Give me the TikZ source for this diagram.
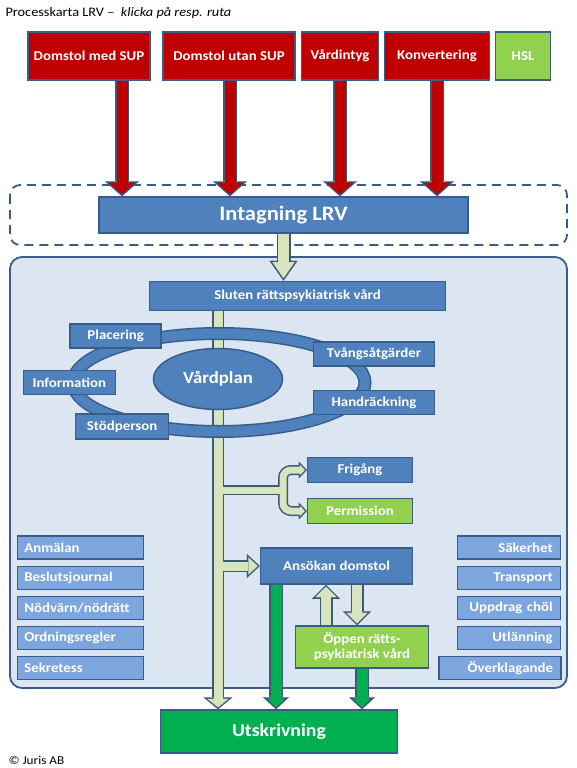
\documentclass[tikz,border=0pt]{standalone}
\usepackage{fontspec}
\setmainfont{Carlito}[FakeStretch=1.1]
\usetikzlibrary{positioning,arrows.meta,shapes.geometric}

\definecolor{redfill}{HTML}{C00000}
\definecolor{bluefill}{HTML}{4F81BD}
\definecolor{boxline}{HTML}{385D8A}
\definecolor{listfill}{HTML}{7EA6DE}
\definecolor{lightgreen}{HTML}{92D050}
\definecolor{darkgreen}{HTML}{00B050}
\definecolor{panelfill}{HTML}{DCE6F2}
\definecolor{paleyellow}{HTML}{D7E4BD}
\definecolor{arrowline}{HTML}{3B5A75}

\begin{document}
\begin{tikzpicture}[
    x=1pt, y=-1pt,
    font=\fontsize{13.5}{15}\selectfont\bfseries,
    box/.style={draw=boxline, line width=1.5pt, text=white, inner sep=1pt, align=center},
    redbox/.style={box, fill=redfill, minimum height=48pt},
    bluebox/.style={box, fill=bluefill},
    greenbox/.style={box, fill=lightgreen},
    leftlist/.style={box, fill=listfill, minimum height=23pt, text width=112pt, inner xsep=7pt, align=left},
    rightlist/.style={box, fill=listfill, minimum height=23pt, text width=#1, inner xsep=8pt, align=right},
    rightlist/.default=87pt,
    blockline/.style args={#1/#2/#3}{line width=#1, -{Triangle[width=#2, length=#3, line width=0.01pt]}},
    twoway/.style args={#1/#2/#3}{line width=#1, {Triangle[width=#2, length=#3, line width=0.01pt]}-{Triangle[width=#2, length=#3, line width=0.01pt]}}
]
\useasboundingbox (0,0) rectangle (576,768);

\node[anchor=west, font=\fontsize{13}{15}\selectfont\mdseries] (title) at (2,13) {Processkarta LRV --\enspace\textit{klicka på resp. ruta}};

\draw[draw=boxline, line width=1.8pt, dash pattern=on 9pt off 6pt, rounded corners=10pt] (10,185) rectangle (567,245);
\draw[draw=boxline, fill=panelfill, line width=1.8pt, rounded corners=12pt] (10,257) rectangle (567,688);

\node[redbox, minimum width=122pt] (dsup) at (89,56) {Domstol med SUP};
\node[redbox, minimum width=132pt] (dutan) at (229,56) {Domstol utan SUP};
\node[redbox, minimum width=77pt] (vintyg) at (340,56) {Vårdintyg};
\node[redbox, minimum width=105pt] (konv) at (437,56) {Konvertering};
\node[greenbox, minimum width=55pt, minimum height=48pt] (hsl) at (523,56) {HSL};

\node[bluebox, minimum width=369pt, minimum height=36pt, font=\fontsize{20.5}{22}\selectfont\bfseries] (intag) at (283.5,215) {Intagning LRV};
\node[bluebox, minimum width=296pt, minimum height=29pt] (sluten) at (297.5,296) {Sluten rättspsykiatrisk vård};

\node[bluebox, minimum width=105pt, minimum height=25pt] (frigang) at (360,470) {Frigång};
\node[greenbox, minimum width=105pt, minimum height=25pt] (permission) at (360,511) {Permission};
\node[bluebox, minimum width=152pt, minimum height=36pt] (ansokan) at (336.5,566) {Ansökan domstol};
\node[greenbox, minimum width=133pt, minimum height=42pt] (oppen) at (362,647) {Öppen rätts-\\psykiatrisk vård};
\node[box, fill=darkgreen, minimum width=237pt, minimum height=43pt, font=\fontsize{18}{20}\selectfont\bfseries] (utskr) at (279,731.5) {Utskrivning};

\node[leftlist] (anmalan) at (80.3,547.5) {Anmälan};
\node[leftlist] (besluts) at (80.3,578) {Beslutsjournal};
\node[leftlist] (nodvarn) at (80.3,608) {Nödvärn/nödrätt};
\node[leftlist] (ordning) at (80.3,638) {Ordningsregler};
\node[leftlist] (sekretess) at (80.3,668) {Sekretess};

\node[rightlist] (sakerhet) at (509.2,547.5) {Säkerhet};
\node[rightlist] (transport) at (509.2,578) {Transport};
\node[rightlist] (uppdrag) at (509.2,608) {Uppdrag chöl};
\node[rightlist] (utlanning) at (509.2,638) {Utlänning};
\node[rightlist=106pt] (overkl) at (500,668) {Överklagande};

\node[anchor=west, font=\fontsize{12}{14}\selectfont\mdseries] (copyright) at (5,760) {\textcopyright\ Juris AB};

\coordinate (spine) at (218,311);
\coordinate (fork) at (283,490);
\coordinate (uparr) at (326,600);
\coordinate (downarr) at (357,600);
\coordinate (grarr) at (276,600);

\foreach \src/\dx in {dsup/33,dutan/1,vintyg/0,konv/0} {
  \draw[blockline=14pt/34pt/15pt, draw=arrowline] ([xshift=\dx pt]\src.south) -- ([xshift=\dx pt]\src.south |- intag.north);
  \draw[blockline=11pt/26pt/11.5pt, draw=redfill, shorten >=2pt] ([xshift=\dx pt]\src.south) -- ([xshift=\dx pt]\src.south |- intag.north);
}

\draw[blockline=14pt/28pt/20pt, draw=arrowline] (intag.south) -- (intag.south |- sluten.north);
\draw[blockline=12pt/29pt/12pt, draw=arrowline] (sluten.south -| spine) -- (utskr.north -| spine);
\draw[line width=10pt, draw=arrowline] (fork -| spine) -- (fork);
\draw[twoway=10pt/17pt/8pt, draw=arrowline, rounded corners=8pt] (frigang.west) -| (fork) |- (permission.west);
\draw[blockline=12pt/24pt/13pt, draw=arrowline] (ansokan.west -| spine) -- (ansokan.west);
\draw[blockline=13pt/28pt/14pt, draw=arrowline] (oppen.north -| uparr) -- (ansokan.south -| uparr);
\draw[blockline=13pt/28pt/14pt, draw=arrowline] (ansokan.south -| downarr) -- (oppen.north -| downarr);

\draw[blockline=11pt/22pt/16pt, draw=paleyellow, shorten >=2.6pt] (intag.south) -- (intag.south |- sluten.north);
\draw[blockline=9pt/21pt/8.5pt, draw=paleyellow, shorten >=2pt] (sluten.south -| spine) -- (utskr.north -| spine);
\draw[line width=7pt, draw=paleyellow] (fork -| spine) -- (fork);
\draw[twoway=7pt/10pt/4.6pt, draw=paleyellow, rounded corners=8pt, shorten <=2pt, shorten >=2pt] (frigang.west) -| (fork) |- (permission.west);
\draw[blockline=9pt/17pt/9.3pt, draw=paleyellow, shorten >=2pt] (ansokan.west -| spine) -- (ansokan.west);
\draw[blockline=10pt/21pt/10.4pt, draw=paleyellow, shorten >=2pt] (oppen.north -| uparr) -- (ansokan.south -| uparr);
\draw[blockline=10pt/21pt/10.4pt, draw=paleyellow, shorten >=2pt] (ansokan.south -| downarr) -- (oppen.north -| downarr);

\draw[blockline=14pt/26pt/12pt, draw=arrowline] (ansokan.south -| grarr) -- (utskr.north -| grarr);
\draw[blockline=14pt/26pt/12pt, draw=arrowline] (oppen.south) -- (oppen.south |- utskr.north);
\draw[blockline=11pt/18pt/8.5pt, draw=darkgreen, shorten >=2pt] (ansokan.south -| grarr) -- (utskr.north -| grarr);
\draw[blockline=11pt/18pt/8.5pt, draw=darkgreen, shorten >=2pt] (oppen.south) -- (oppen.south |- utskr.north);

\draw[draw=boxline, line width=13pt] (219,382.5) ellipse [x radius=146pt, y radius=49pt];
\draw[draw=bluefill, line width=10pt] (219,382.5) ellipse [x radius=146pt, y radius=49pt];

\node[ellipse, draw=boxline, fill=bluefill, line width=1.5pt, text=white, minimum width=129pt, minimum height=61pt, inner sep=0pt, font=\fontsize{17}{19}\selectfont\bfseries] (vardplan) at (218,379) {Vårdplan};
\node[bluebox, minimum width=91pt, minimum height=24pt] (placering) at (115.7,336) {Placering};
\node[bluebox, minimum width=121pt, minimum height=24pt] (tvang) at (374,354) {Tvångsåtgärder};
\node[bluebox, minimum width=92pt, minimum height=24pt] (info) at (69.3,382.5) {Information};
\node[bluebox, minimum width=121pt, minimum height=24pt] (handr) at (374,402.5) {Handräckning};
\node[bluebox, minimum width=93pt, minimum height=25pt] (stod) at (122,426.5) {Stödperson};

\end{tikzpicture}
\end{document}
